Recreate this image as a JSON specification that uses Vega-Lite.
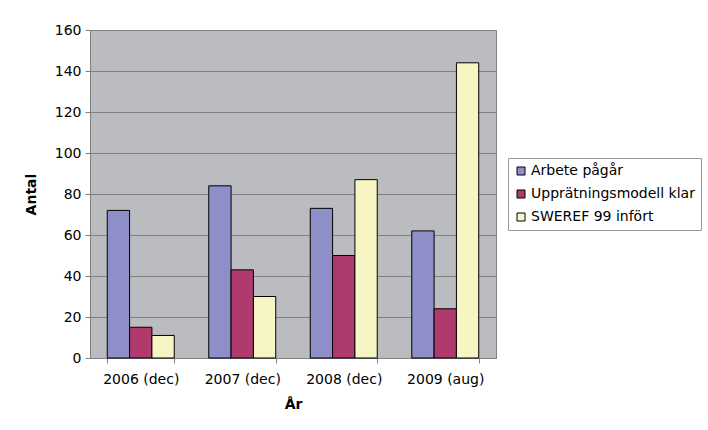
{
  "$schema": "https://vega.github.io/schema/vega-lite/v6.json",
  "autosize": "none",
  "width": 406,
  "height": 328,
  "padding": {"left": 90, "top": 30, "right": 212, "bottom": 72},
  "background": "white",
  "data": {
    "values": [
      {"ar": "2006 (dec)", "serie": "Arbete pågår", "antal": 72},
      {"ar": "2006 (dec)", "serie": "Upprätningsmodell klar", "antal": 15},
      {"ar": "2006 (dec)", "serie": "SWEREF 99 infört", "antal": 11},
      {"ar": "2007 (dec)", "serie": "Arbete pågår", "antal": 84},
      {"ar": "2007 (dec)", "serie": "Upprätningsmodell klar", "antal": 43},
      {"ar": "2007 (dec)", "serie": "SWEREF 99 infört", "antal": 30},
      {"ar": "2008 (dec)", "serie": "Arbete pågår", "antal": 73},
      {"ar": "2008 (dec)", "serie": "Upprätningsmodell klar", "antal": 50},
      {"ar": "2008 (dec)", "serie": "SWEREF 99 infört", "antal": 87},
      {"ar": "2009 (aug)", "serie": "Arbete pågår", "antal": 62},
      {"ar": "2009 (aug)", "serie": "Upprätningsmodell klar", "antal": 24},
      {"ar": "2009 (aug)", "serie": "SWEREF 99 infört", "antal": 144}
    ]
  },
  "mark": {"type": "bar", "stroke": "black", "strokeWidth": 1},
  "encoding": {
    "x": {
      "field": "ar", "type": "nominal", "sort": null, "title": "År",
      "scale": {"paddingInner": 0.34, "paddingOuter": 0.17},
      "axis": {
        "labelAngle": 0, "tickBand": "extent", "domainColor": "#808080", "tickColor": "#808080",
        "tickSize": 5, "labelPadding": 9, "titlePadding": 11
      }
    },
    "y": {
      "field": "antal", "type": "quantitative", "title": "Antal",
      "scale": {"domain": [0, 160], "nice": false},
      "axis": {
        "values": [0, 20, 40, 60, 80, 100, 120, 140, 160],
        "domainColor": "#808080", "tickColor": "#808080", "gridColor": "#808080",
        "tickSize": 5, "labelPadding": 4, "titlePadding": 16
      }
    },
    "xOffset": {"field": "serie", "type": "nominal", "sort": ["Arbete pågår", "Upprätningsmodell klar", "SWEREF 99 infört"]},
    "color": {
      "field": "serie", "type": "nominal", "title": null,
      "sort": ["Arbete pågår", "Upprätningsmodell klar", "SWEREF 99 infört"],
      "scale": {
        "domain": ["Arbete pågår", "Upprätningsmodell klar", "SWEREF 99 infört"],
        "range": ["#8E8FC8", "#AE3A6E", "#F8F5C4"]
      },
      "legend": {
        "orient": "none", "legendX": 418, "legendY": 128,
        "symbolType": "square", "symbolSize": 64, "symbolStrokeColor": "black", "symbolStrokeWidth": 1,
        "labelFontSize": 14, "labelFont": "DejaVu Sans", "labelColor": "black",
        "rowPadding": 9, "symbolOffset": 0, "labelOffset": 3,
        "strokeColor": "#999999", "padding": 6, "fillColor": "white",
        "labelLimit": 250
      }
    }
  },
  "config": {
    "view": {"fill": "#BBBCC0", "stroke": "#808080"},
    "axis": {
      "labelFont": "DejaVu Sans", "labelFontSize": 14, "labelColor": "black",
      "titleFont": "DejaVu Sans", "titleFontSize": 14, "titleFontWeight": "bold", "titleColor": "black",
      "gridWidth": 1
    }
  }
}
